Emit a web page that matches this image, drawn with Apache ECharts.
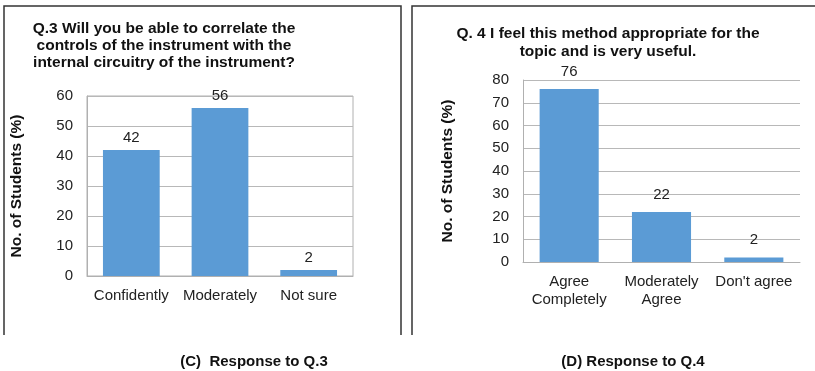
<!DOCTYPE html>
<html>
<head>
<meta charset="utf-8">
<script src="https://cdn.jsdelivr.net/npm/echarts@6/dist/echarts.min.js"></script>
<style>
html,body{margin:0;padding:0;background:#fff;}
#chart{width:815px;height:371px;}
</style>
</head>
<body>
<div id="chart"></div>
<script>
var chart = echarts.init(document.getElementById('chart'));

// Q.3 data
var q3Cats = ['Confidently', 'Moderately', 'Not sure'];
var q3Vals = [42, 56, 2];
// Q.4 data
var q4Cats = ['Agree\nCompletely', 'Moderately\nAgree', "Don't agree"];
var q4Vals = [76, 22, 2];

var q3Title = 'Q.3 Will you be able to correlate the\ncontrols of the instrument with the\ninternal circuitry of the instrument?';
var q4Title = 'Q. 4 I feel this method appropriate for the\ntopic and is very useful.';
var yName = 'No. of Students (%)';

var barColor = '#5b9bd5';
var font = 'Liberation Sans, Arial, sans-serif';

function yAxis(idx, max, gap) {
    return {
        type: 'value',
        gridIndex: idx,
        min: 0,
        max: max,
        interval: 10,
        name: yName,
        nameLocation: 'middle',
        nameGap: gap,
        nameTextStyle: {fontSize: 15.5, fontWeight: 'bold', color: '#111', fontFamily: font},
        axisLine: {show: true, lineStyle: {color: '#b0b0b0'}},
        axisTick: {show: false},
        axisLabel: {fontSize: 15, color: '#222', fontFamily: font, margin: 14},
        splitLine: {lineStyle: {color: '#b8b8b8'}}
    };
}

function xAxis(idx, cats) {
    return {
        type: 'category',
        gridIndex: idx,
        data: cats,
        axisLine: {lineStyle: {color: '#b0b0b0'}},
        axisTick: {show: false},
        axisLabel: {fontSize: 15, color: '#222', fontFamily: font, margin: 11, lineHeight: 18, interval: 0}
    };
}

function bars(idx, vals, dist) {
    return {
        type: 'bar',
        xAxisIndex: idx,
        yAxisIndex: idx,
        data: vals,
        barWidth: '64%',
        itemStyle: {color: barColor},
        label: {show: true, position: 'top', distance: dist, fontSize: 15, color: '#222', fontFamily: font}
    };
}

var option = {
    backgroundColor: '#fff',
    animation: false,
    title: [
        {text: q3Title, left: 164, top: 20, padding: 0, textAlign: 'center',
         textStyle: {fontSize: 15.5, fontWeight: 'bold', color: '#111', fontFamily: font, lineHeight: 17, align: 'center'}},
        {text: q4Title, left: 608, top: 25, padding: 0, textAlign: 'center',
         textStyle: {fontSize: 15.5, fontWeight: 'bold', color: '#111', fontFamily: font, lineHeight: 18, align: 'center'}},
        {text: '(C)  Response to Q.3', left: 254, top: 354, padding: 0, textAlign: 'center',
         textStyle: {fontSize: 15, fontWeight: 'bold', color: '#111', fontFamily: font}},
        {text: '(D) Response to Q.4', left: 633, top: 354, padding: 0, textAlign: 'center',
         textStyle: {fontSize: 15, fontWeight: 'bold', color: '#111', fontFamily: font}}
    ],
    grid: [
        {left: 87, right: 462, top: 96, bottom: 95, show: true, borderColor: '#b0b0b0', borderWidth: 1},
        {left: 523, right: 15, top: 80, bottom: 109}
    ],
    xAxis: [xAxis(0, q3Cats), xAxis(1, q4Cats)],
    yAxis: [yAxis(0, 60, 62), yAxis(1, 80, 67)],
    series: [bars(0, q3Vals, 5), bars(1, q4Vals, 10)],
    graphic: [
        {type: 'polyline', shape: {points: [[4, 335], [4, 6], [401, 6], [401, 335]]},
         style: {stroke: '#333', lineWidth: 1.5, fill: null}},
        {type: 'polyline', shape: {points: [[412, 335], [412, 6], [820, 6]]},
         style: {stroke: '#333', lineWidth: 1.5, fill: null}}
    ]
};
chart.setOption(option);
</script>
</body>
</html>
